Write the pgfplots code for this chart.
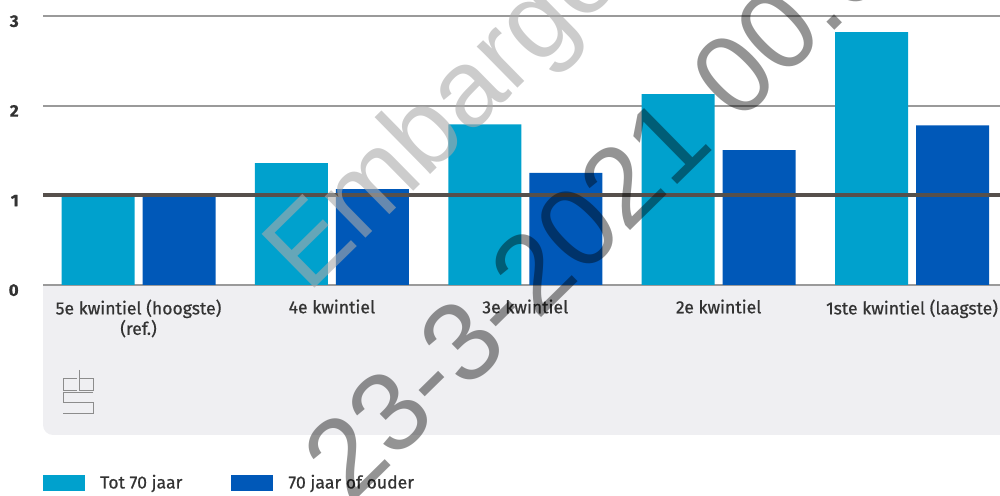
\documentclass[border=0pt]{standalone}
\usepackage{fontspec}
\setmainfont{Fira Sans}[FakeBold=0.7]
\newfontfamily\wmfont{Liberation Sans}
\usepackage{pgfplots}
\pgfplotsset{compat=1.18}
\definecolor{lightb}{HTML}{00A1CD}
\definecolor{darkb}{HTML}{0058B8}
\definecolor{panel}{HTML}{EFEFF2}
\definecolor{gridc}{HTML}{9A9A9A}
\definecolor{refl}{HTML}{56504C}
\definecolor{txt}{HTML}{333333}
\definecolor{wmlight}{HTML}{AAAAAA}
\definecolor{logoc}{HTML}{8C8C8C}

\begin{document}
\begin{tikzpicture}[x=0.25mm,y=0.25mm]
\useasboundingbox (0,0) rectangle (1000,496);
% grey panel behind the category labels
\fill[panel] (43,211) -- (43,71) arc[start angle=180,end angle=270,radius=10] -- (1010,61) -- (1010,211) -- cycle;
% cbs logo
\begin{scope}[draw=logoc, line width=0.5pt, double=panel, double distance=0.7pt]
\draw (77,118) -- (63,118) -- (63,106) -- (77,106);
\draw (79,126) -- (79,106) -- (93,106) -- (93,118) -- (79,118);
\draw (93,104) -- (63,104) -- (63,94) -- (93,94) -- (93,83) -- (63,83);
\end{scope}

\begin{axis}[
    at={(10.75mm,52.75mm)}, anchor=south west,
    scale only axis,
    width=239.25mm, height=67.25mm,
    xmin=-0.494, xmax=4.455,
    ymin=0, ymax=3,
    ybar=2mm, bar width=18.25mm,
    axis line style={draw=none},
    major tick length=0pt,
    ytick={0,1,2,3},
    xtick={0,1,2,3,4},
    /pgf/number format/assume math mode=true,
    xticklabels={{5e kwintiel (hoogste)\\(ref.)},4e kwintiel,3e kwintiel,2e kwintiel,{1ste kwintiel (laagste)}},
    xticklabel style={align=center, text=txt, font=\fontsize{12.5}{14.5}\selectfont, yshift=-2.4mm},
    yticklabel style={text=txt, font=\fontsize{12}{14}\selectfont\bfseries, xshift=-4.85mm, yshift=-1.3mm},
    ymajorgrids,
    grid style={draw=gridc, line width=0.5mm},
    sw/.style={legend image code/.code={\fill[##1] (0mm,-2mm) rectangle (10.5mm,2mm);}},
    legend columns=-1,
    legend style={at={(0,-0.695)}, anchor=north west, draw=none, fill=none, inner sep=0pt, outer sep=0pt,
        font=\fontsize{12.5}{14}\selectfont, text=txt,
        /tikz/every odd column/.append style={column sep=3.1mm},
        /tikz/every even column/.append style={column sep=11.5mm}},
    legend cell align=left,
]
\addplot[fill=lightb, draw=none, sw] coordinates {(0,1.00) (1,1.36) (2,1.79) (3,2.13) (4,2.82)};
\addplot[fill=darkb, draw=none, sw] coordinates {(0,1.00) (1,1.07) (2,1.25) (3,1.505) (4,1.78)};
\legend{Tot 70 jaar, 70 jaar of ouder}
\draw[refl, line width=1mm] (axis cs:-0.494,1) -- (axis cs:4.455,1);
\end{axis}

% embargo watermark
\begin{scope}[shift={(350,-10)}, rotate=44.5]
\node[anchor=base west, inner sep=0pt, text=black, text opacity=0.42, font=\wmfont\fontsize{80}{82}\selectfont, rotate=44.5] at (0,0) {23-3-2021 00:00};
\node[anchor=base west, inner sep=0pt, text=wmlight, text opacity=0.6, font=\wmfont\fontsize{78}{80}\selectfont, rotate=44.5] at (118,180) {Embargo};
\end{scope}
\end{tikzpicture}
\end{document}
